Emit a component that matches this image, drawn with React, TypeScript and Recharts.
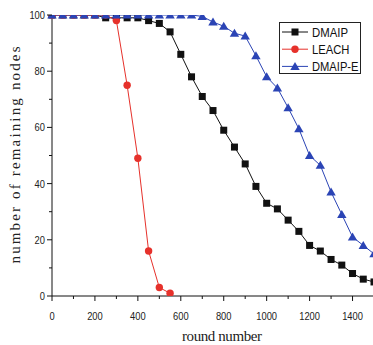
import { LineChart, Line, XAxis, YAxis, Customized } from 'recharts'

const rounds = [
  0, 50, 100, 150, 200, 250, 300, 350, 400, 450, 500, 550, 600, 650, 700, 750,
  800, 850, 900, 950, 1000, 1050, 1100, 1150, 1200, 1250, 1300, 1350, 1400,
  1450, 1500,
]
const dmaip = [
  100, 100, 100, 100, 100, 99, 99, 99, 99, 98, 97, 94, 86, 78, 71, 66, 59, 53,
  47, 39, 33, 31, 27, 23, 18, 16, 13, 11, 8, 6, 5,
]
const leach = [
  100, 100, 100, 100, 100, 100, 98, 75, 49, 16, 3, 1, null, null, null, null,
  null, null, null, null, null, null, null, null, null, null, null, null, null,
  null, null,
]
const dmaipE = [
  100, 100, 100, 100, 100, 100, 100, 100, 100, 100, 100, 100, 100, 100, 99.5,
  97.5, 96, 93.5, 92.5, 85.5, 78, 74, 67, 59.5, 50, 46.5, 37, 29, 21, 18, 15,
]
const xTicks = [
  0, 100, 200, 300, 400, 500, 600, 700, 800, 900, 1000, 1100, 1200, 1300, 1400,
  1500,
]
const yTicks = [0, 10, 20, 30, 40, 50, 60, 70, 80, 90, 100]

const data = rounds.map((r, i) => ({
  round: r,
  dmaip: dmaip[i],
  leach: leach[i],
  dmaipE: dmaipE[i],
}))

const BLACK = '#111'
const RED = '#e6312b'
const BLUE = '#2b44b5'
const tickFont = '"Liberation Sans", Arial, sans-serif'
const DIGIT = 5.2

function BottomTick(props: any) {
  const { x, y, payload } = props
  const major = payload.value % 200 === 0
  const label = String(payload.value)
  return (
    <g>
      <line x1={x} x2={x} y1={y} y2={y + (major ? 5 : 3)} stroke={BLACK} />
      {major && payload.value < 1500 && (
        <text
          x={x}
          y={y + 24}
          textAnchor="middle"
          fontSize={11}
          fill="#222"
          fontFamily={tickFont}
          textLength={label.length * DIGIT}
          lengthAdjust="spacingAndGlyphs"
        >
          {label}
        </text>
      )}
    </g>
  )
}

function TopTick(props: any) {
  const { x, y, payload } = props
  const major = payload.value % 200 === 0
  return <line x1={x} x2={x} y1={y} y2={y + (major ? 5 : 3)} stroke={BLACK} />
}

function LeftTick(props: any) {
  const { x, y, payload } = props
  const major = payload.value % 20 === 0
  const label = String(payload.value)
  return (
    <g>
      <line x1={x - (major ? 5 : 3)} x2={x} y1={y} y2={y} stroke={BLACK} />
      {major && (
        <text
          x={x - 7}
          y={y}
          dy="0.36em"
          textAnchor="end"
          fontSize={11}
          fill="#222"
          fontFamily={tickFont}
          textLength={label.length * DIGIT}
          lengthAdjust="spacingAndGlyphs"
        >
          {label}
        </text>
      )}
    </g>
  )
}

function Square(props: any) {
  const { cx, cy, index } = props
  if (cx == null || cy == null) return <g key={index} />
  return <rect key={index} x={cx - 3.5} y={cy - 3.5} width={7} height={7} fill={BLACK} />
}

function Circle(props: any) {
  const { cx, cy, index } = props
  if (cx == null || cy == null) return <g key={index} />
  return <circle key={index} cx={cx} cy={cy} r={3.7} fill={RED} />
}

function Triangle(props: any) {
  const { cx, cy, index } = props
  if (cx == null || cy == null) return <g key={index} />
  return (
    <polygon
      key={index}
      points={`${cx},${cy - 4.5} ${cx + 4.7},${cy + 3.5} ${cx - 4.7},${cy + 3.5}`}
      fill={BLUE}
    />
  )
}

const legendItems = [
  { name: 'DMAIP', color: BLACK, marker: 'square', len: 36 },
  { name: 'LEACH', color: RED, marker: 'circle', len: 37.5 },
  { name: 'DMAIP-E', color: BLUE, marker: 'triangle', len: 46.5 },
]

function Overlay() {
  return (
    <g>
      <text
        x={19.5}
        y={155}
        transform="rotate(-90 19.5 155)"
        textAnchor="middle"
        fontSize={15}
        fontFamily='"Liberation Serif", serif'
        fill="#222"
        textLength={217}
        lengthAdjust="spacing"
      >
        number of remaining nodes
      </text>
      <text
        x={222}
        y={341}
        textAnchor="middle"
        fontSize={15}
        fontFamily='"Liberation Serif", serif'
        fill="#222"
        textLength={80}
        lengthAdjust="spacing"
      >
        round number
      </text>
      <rect x={279.5} y={22.5} width={81} height={51} fill="#fff" stroke="#222" />
      {legendItems.map((it, i) => {
        const y = 32 + i * 17.2
        return (
          <g key={it.name}>
            <line x1={282} x2={308} y1={y} y2={y} stroke={it.color} />
            {it.marker === 'square' && <Square cx={295} cy={y} />}
            {it.marker === 'circle' && <Circle cx={295} cy={y} />}
            {it.marker === 'triangle' && <Triangle cx={295} cy={y} />}
            <text
              x={312}
              y={y + 4.6}
              fontSize={13}
              fontFamily={tickFont}
              fill="#111"
              textLength={it.len}
              lengthAdjust="spacingAndGlyphs"
            >
              {it.name}
            </text>
          </g>
        )
      })}
    </g>
  )
}

export default function App() {
  return (
    <div style={{ position: 'absolute', left: 0, top: 0, width: 373, height: 345, overflow: 'hidden', background: '#fff' }}>
      <LineChart
        width={380}
        height={345}
        data={data}
        margin={{ top: 15, right: 6, bottom: 9, left: 0 }}
      >
        <XAxis
          dataKey="round"
          type="number"
          domain={[0, 1500]}
          ticks={xTicks}
          interval={0}
          tickSize={0}
          tickMargin={0}
          tickLine={false}
          tick={<BottomTick />}
          height={40}
          axisLine={{ stroke: BLACK }}
        />
        <XAxis
          xAxisId="top"
          orientation="top"
          dataKey="round"
          type="number"
          domain={[0, 1500]}
          ticks={xTicks}
          interval={0}
          tickSize={0}
          tickMargin={0}
          tickLine={false}
          tick={<TopTick />}
          height={0}
          axisLine={{ stroke: BLACK }}
        />
        <YAxis
          type="number"
          domain={[0, 100]}
          allowDataOverflow
          ticks={yTicks}
          interval={0}
          tickSize={0}
          tickMargin={0}
          tickLine={false}
          tick={<LeftTick />}
          width={52}
          axisLine={{ stroke: BLACK }}
        />
        <Line
          dataKey="dmaip"
          stroke={BLACK}
          strokeWidth={1}
          dot={<Square />}
          activeDot={false}
          isAnimationActive={false}
        />
        <Line
          dataKey="leach"
          stroke={RED}
          strokeWidth={1}
          dot={<Circle />}
          activeDot={false}
          isAnimationActive={false}
        />
        <Line
          dataKey="dmaipE"
          stroke={BLUE}
          strokeWidth={1}
          dot={<Triangle />}
          activeDot={false}
          isAnimationActive={false}
        />
        <Customized component={<Overlay />} />
      </LineChart>
    </div>
  )
}
